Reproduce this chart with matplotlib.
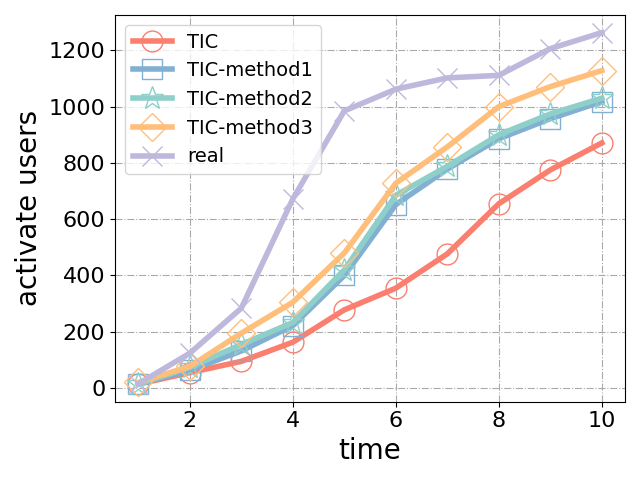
import numpy as np
import matplotlib.pyplot as plt

time = [1, 2, 3, 4, 5, 6, 7, 8, 9, 10]
tic = [14, 55, 95, 163, 278, 355, 477, 655, 775, 871]
tic_m1 = [15, 63, 132, 222, 400, 652, 778, 886, 957, 1018]
tic_m2 = [14, 74, 155, 233, 420, 685, 788, 900, 974, 1030]
tic_m3 = [20, 77, 195, 305, 480, 728, 857, 1000, 1071, 1128]
real = [15, 124, 284, 672, 985, 1062, 1102, 1111, 1206, 1263]

series = [
    ("TIC", tic, '#FA7F6F', 'o'),
    ("TIC-method1", tic_m1, '#82B0D2', 's'),
    ("TIC-method2", tic_m2, '#8ECFC9', '*'),
    ("TIC-method3", tic_m3, '#FFBE7A', 'D'),
    ("real", real, '#BEB8DC', 'x'),
]

plt.figure(figsize=(6.4, 4.8), dpi=100)
for name, vals, c, m in series:
    ms = 15 if m != 'D' else 14
    if m == '*':
        ms = 17
    plt.plot(time, vals, marker=m, c=c, lw=4, ms=ms,
             markerfacecolor='none', markeredgecolor=c, markeredgewidth=1, label=name)

plt.grid(True, linestyle='-.', color='#aaaaaa')
plt.xticks([2, 4, 6, 8, 10], fontsize=16)
plt.yticks(fontsize=16)
plt.xlabel('time', fontsize=20)
plt.ylabel('activate users', fontsize=20)
plt.legend(loc='upper left', fontsize=14)
plt.tight_layout()
plt.savefig('out.png')
